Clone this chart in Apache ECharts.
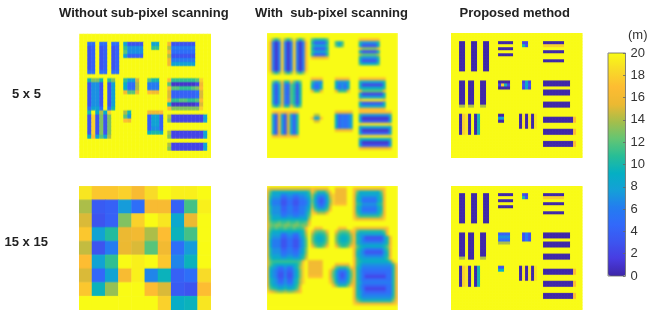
<!DOCTYPE html>
<html><head><meta charset="utf-8">
<style>html,body{margin:0;padding:0;background:#fff}#stage{position:relative;width:654px;height:316px;overflow:hidden}
.clip{position:absolute;overflow:hidden}.clip>div{position:absolute}#top{position:absolute;left:0;top:0;width:654px;height:316px;pointer-events:none}</style>
<script src="https://cdn.jsdelivr.net/npm/echarts@6/dist/echarts.min.js"></script></head>
<body><div id="stage"></div><script>
// Cell values: one char per cell, base-36 metres (0-9, a=10 ... k=20); '.' = 20. "@n:" skips to cell n over 20s. Unwritten cells are 20.
const withoutSub5 = [
"","",
"@2:55 @5:55 @8:55 @11:83333 @18:88 @22:g333333",
"@2:34 @5:34 @8:34 @11:b7777 @18:bb @22:e666666",
"@2:34 @5:34 @8:34 @11:c7777 @22:g555555",
"@2:34 @5:34 @8:34 @11:84444 @22:e333333",
"@2:34 @5:34 @8:34 @22:g666666",
"@2:34 @5:34 @8:34 @22:g888888",
"@2:34 @5:34 @8:34",
"@2:55 @5:55 @8:55",
"",
"@2:adda @7:bd @11:b88f @17:caa @22:hbbbbbbci",
"@2:3773 @7:38 @11:955e @17:666 @22:c1111112g",
"@2:3773 @7:38 @11:955e @17:666 @22:hccbbbcdh",
"@2:3773 @7:38 @11:gccg @17:hgg @22:f4444445f",
"@2:3773 @7:38 @22:f4444445f",
"@2:3773 @7:38 @22:hbbccbbch",
"@2:3773 @7:38 @22:a1111112f",
"@2:5885 @7:5a @22:hdddddddi",
"@2:a.9e9i @11:ea @17:gggh",
"@2:3i3d3d @11:c7 @17:4884 @22:e222222228",
"@2:3i3d3d @11:hg @17:4884 @22:d222222228",
"@2:3i3d3d @17:4884",
"@2:3i3d3d @17:4774",
"@2:3i3d3d @17:9aa9 @22:e222222228",
"@2:9h8c8e @22:d222222228",
"",
"@22:e222222228",
"@22:d222222228",
"",""];
const withoutSub15 = [
[19,17.5,17.5,18,16.5,18.5,20,19.5,19.5,20],
[14,3.5,4,7.5,5,16.5,16.5,4,11.5,19.5],
[15,3,4,13,18,20,19,8.5,15.5,20],
[17.5,8,10.5,15.5,16,14,17,9.5,11.5,20],
[14.5,3,6,15.5,15,12,16,5,7.5,20],
[17,8,11,20,19.5,20,17.5,6.5,9.5,20],
[15,4.5,8,16.5,19.5,6.5,9.5,4,5,18.5],
[17.5,9.5,13.5,20,20,17,15,3.5,3,17],
[20,20,20,20,20,20,18,9,9.5,19]];
const withSub5 = [
"","",
"@1:j dad j dad j dad j @15:caaaac @31:hhhhhhh",
"@1:h 616 i 616 i 616 h @15:a4444a @23:b8b @31:a77777a",
"@1:h 616 i 616 i 616 h @15:b8888b @23:c9c @31:9333339",
"@1:h 616 i 616 i 616 h @15:a4444a @31:gdddddg",
"@1:h 616 i 616 i 616 h @15:b8888b @31:9333339",
"@1:h 616 i 616 i 616 h @15:a4444a @31:eccccce",
"@1:h 616 i 616 i 616 h @15:hggggh @31:a77777a",
"@1:h 616 i 616 i 616 h @31:8333338",
"@1:h 616 i 616 i 616 h @31:b99999b",
"@1:h 616 i 616 i 616 h",
"@1:h 616 i 616 i 616 h",
"@1:j dad j dad j dad j",
"",
"@15:hhhh @23:hhhhh @31:hhhhhhhhh",
"@2:c8c gaag c8c @15:b777 @23:97779 @31:a8888888a",
"@2:838 f64c a3a @15:9559 @23:95759 @31:922222229",
"@2:838 f64c a3a @15:9559 @23:95759 @31:a9999999a",
"@2:838 f64c a3a @15:gbbg @23:gbbbg @31:gcccccccg",
"@2:838 f64c a3a @31:922222229",
"@2:838 f64c a3a @31:a8888888a",
"@2:838 f64c a3a @31:hjjjjjjjh",
"@2:838 f64c a3a @31:933333339",
"@2:c9c gaag c8c @31:a8888888a",
"@31:hhhhhhhhh",
"@2:hgh hgh hgh @23:gggggg @31:hhhhhhhhhhh",
"@2:83g 83f 84a @16:ee @23:946568 @31:a777777777a",
"@2:83g 83f 84a @15:h88h @23:946568 @31:71111111117",
"@2:83g 83f 84a @16:ff @23:946568 @31:93333333339",
"@2:83g 83f 84a @23:946568 @31:ijjjjjjjjji",
"@2:83g 83f 84a @23:946568 @31:98888888889",
"@2:83g 83f 84a @23:gggggg @31:71111111117",
"@2:83g 83f 84a @31:94444444449",
"@2:hgh hgh hgh @31:ijjjjjjjjji",
"@31:a999999999a",
"@31:71111111117",
"@31:93333333339",
"@31:hgggggggggh",
"","",""];
const withSub15 = [
"",
"i ffffffffffffff h @16:ggggg @23:gggg @29:h ggggggggg h",
"h c 999999999999 b h @16:d aaa d h @23:gggg @29:h c 9999999 c h",
"h b 888 66 77 66 77 8 a e @16:a 777 a f i @23:gggg @29:g b 8888888 b g",
"h a 777 44 66 44 66 7 9 d @16:9 646 9 e i @23:gggg @29:g a 9 66666 9 a g",
"h 9 666 33 55 33 55 6 8 c @16:8 535 8 d i @23:gggg @29:g a 8 55555 8 a g",
"h 9 666 33 55 33 55 6 8 d @16:9 646 9 e i @23:hhhh @29:g b a 77777 a b g",
"h a 777 44 66 44 66 7 9 e @16:a 767 a f @29:g a 8 66666 8 a g",
"h a 777 44 66 44 66 7 a g @16:c aaa c h @29:g a 8 55555 8 a g",
"h a 777 55 66 55 66 8 b i @16:h eee h @29:g b 9 77777 9 b g",
"h b 888 66 77 66 77 8 c j @29:h d bbbbbbb d h",
"h b 999999999999 e @29:i ggggggggg i",
"h c bbcbbcbbcbbc g",
"h d cddcddcddcdd i",
"h c bcbbcbbcbbc h @16:hhh @24:hhh @29:i gggggggggg h",
"h b 9999999999 a f @15:h d cc d h @23:h d cc d h @29:h c aaaaaaaa c h",
"h a 888 55 77 55 8 a e @15:e b aa b e @23:e b aa b e @29:g a 88888888 a g",
"h a 777 44 66 44 7 9 d @15:d a 99 a d @23:d a 99 a d @29:g a 8 6 333333 7 a g",
"h 9 666 33 55 33 6 8 c @15:d a 99 a d @23:d a 99 a d @29:g a 8 6 444444 7 a g",
"h 9 666 33 55 33 6 8 c @15:e b aa b e @23:e b aa b e @29:g a 8 7 777777 8 a g",
"h 9 666 33 55 33 6 8 c @15:h d bb d h @23:h d bb d h @29:h c a 9 999999 a c h",
"h a 777 44 66 44 7 9 d @29:g b 9 7 555555 8 b g",
"h a 777 55 66 55 7 9 d @29:g a 8 6 333333 7 a g",
"h a 888 66 77 66 8 a e @29:g a 8 7 666666 8 a g",
"h b 999 88 99 88 9 b f @29:h b 9 8 888888 9 b h",
"h c bbbbbbbbb c h @14:ggggg @29:h b a 999999999 b h",
"h c a 9999999 a d i @14:ggggg @23:ggggg @29:h b 9 7777777777 b h",
"h a 8 7 55 7 55 8 a e i @14:ggggg @22:h c aaa c h @29:g a 8 6666666666 a g",
"h 9 7 6 44 6 44 7 9 d i @14:ggggg @21:h d 9 666 9 d @29:g a 7 5555555555 a g",
"h 9 7 6 33 6 33 7 9 d i @14:ggggg @21:g c 8 5 3 5 8 c @29:g a 7 5 4444444 55 a g",
"h 9 7 6 33 6 33 7 9 d i @14:hhhhh @21:g c 8 5 3 5 8 c @29:g a 7 5 2222222 55 a g",
"h a 8 7 44 7 44 8 a e i @21:h d 9 6 5 6 9 d @29:g a 7 5 5555555 55 a g",
"h a 8 7 55 7 55 8 a e i @21:i e a 777 a e @29:g a 8 6 6666666 66 a g",
"h b 9 8 77 8 77 9 b f @22:h d aaa d h @29:g a 7 5 4444444 55 a g",
"i c b a 99 a 99 a c h @29:g a 7 5 2222222 55 a g",
"j h f e dd e dd e f h @29:g a 8 6 4444444 55 a g",
"@29:g a 8 6 6666666 66 a g",
"@29:g b 9 7 7777777 77 b g",
"@29:h d b a aaaaaaa aa d h",
"@29:i h ggggggggggg h i",
"",""];
const proposed5 = [
"","","",
"@3:00 @7:00 @11:00 @16:00000 @24:22 @31:0000000",
"@3:00 @7:00 @11:00 @24:a3 @31:iiiiiii",
"@3:00 @7:00 @11:00 @16:00000",
"@3:00 @7:00 @11:00 @31:0000000",
"@3:00 @7:00 @11:00 @16:00000",
"@3:00 @7:00 @11:00",
"@3:00 @7:00 @11:00 @31:0000000",
"@3:00 @7:00 @11:00",
"@3:00 @7:00 @11:00",
"@3:00 @7:00 @11:00",
"","","",
"@3:00 @6:00 @10:00 @16:0000 @24:282 @31:000000000",
"@3:00 @6:00 @10:00 @16:2ia2 @24:393 @31:000000000",
"@3:00 @6:00 @10:00 @16:0000 @24:282",
"@3:00 @6:00 @10:00 @31:000000000",
"@3:00 @6:00 @10:00 @31:000000000",
"@3:00 @6:00 @10:00",
"@3:00 @6:00 @10:00",
"@3:00 @6:00 @10:00 @31:000000000",
"@3:ee @6:ee @10:ee @31:000000000",
"","",
"@3:0ij0.0a @16:00 @23:0j0j0j",
"@3:0ij0.0a @16:88 @23:0j0j0j @31:0000000000h",
"@3:0ij0.0a @16:00 @23:0j0j0j @31:0000000000h",
"@3:0ij0.0a @23:0j0j0j",
"@3:0ij0.0a @23:0j0j0j",
"@3:0ij0.0a @31:0000000000h",
"@3:0ij0.0a @31:0000000000h",
"","",
"@31:0000000000h",
"@31:0000000000h",
"","","",""];
const proposed15 = [
"","","",
"@3:00 @7:00 @11:00 @16:00000 @24:32 @31:0000000",
"@3:00 @7:00 @11:00 @24:a3 @31:iiiiiii",
"@3:00 @7:00 @11:00 @16:00000",
"@3:00 @7:00 @11:00 @31:0000000",
"@3:00 @7:00 @11:00 @16:00000",
"@3:00 @7:00 @11:00",
"@3:00 @7:00 @11:00 @31:0000000",
"@3:00 @7:00 @11:00",
"@3:00 @7:00 @11:00",
"@3:00 @7:00 @11:00",
"","","",
"@3:00 @6:00 @10:00 @16:4444 @24:363 @31:000000000",
"@3:00 @6:00 @10:00 @16:7777 @24:363 @31:000000000",
"@3:00 @6:00 @10:00 @16:5555 @24:363",
"@3:00 @6:00 @10:00 @16:eeee @31:000000000",
"@3:00 @6:00 @10:00 @31:000000000",
"@3:00 @6:00 @10:00",
"@3:00 @6:00 @10:00",
"@3:00 @6:00 @10:00 @31:000000000",
"@3:ee @6:00 @10:ee @31:000000000",
"","",
"@3:0ij0.0a @16:33 @23:0j0j0j",
"@3:0ij0.0a @16:99 @23:0j0j0j @31:0000000000h",
"@3:0ij0.0a @23:0j0j0j @31:0000000000h",
"@3:0ij0.0a @23:0j0j0j",
"@3:0ij0.0a @23:0j0j0j",
"@3:0ij0.0a @31:0000000000h",
"@3:0ij0.0a @31:0000000000h",
"","",
"@31:0000000000h",
"@31:0000000000h",
"","","",""];
const colTitles = ["Without sub-pixel scanning","With  sub-pixel scanning","Proposed method"];
const rowTitles = ["5 x 5","15 x 15"];
const unitLabel = "(m)";
const parula = ["#3e26a8","#483ce1","#3c55f0","#3269fa","#237df0","#14a0d7","#05afc3","#28be96","#64c573","#a5be4b","#ebb932","#fdbc32","#f8da28","#f9fb15"];

function toRows(rows){return rows.map(r=>{
  if(typeof r!=='string') return r;
  const out=[];
  r.replace(/ /g,'').split(/(@\d+:)/).forEach(part=>{
    const m=part.match(/^@(\d+):$/);
    if(m){while(out.length<+m[1])out.push(20);}
    else part.split('').forEach(c=>out.push(c==='.'?20:parseInt(c,36)));
  });
  return out;
});}

const panels=[
 {rows:withoutSub5,cols:33,n:31,clip:[78.5,33,132,124.5],o:[79,34,132,124],blur:.75},
 {rows:withSub5,cols:44,n:42,clip:[267,33,131,124.5],o:[266,32.3,132,126],blur:1.0},
 {rows:proposed5,cols:44,n:42,clip:[451,33,132,124.5],o:[450.3,32.3,132,126],blur:.5},
 {rows:withoutSub15,cols:10,n:9,clip:[78.5,186,132,123.5],o:[78.3,186,132,123],blur:.6},
 {rows:withSub15,cols:44,n:42,clip:[267,186,131,123.5],o:[266,184.7,132,126],blur:1.3},
 {rows:proposed15,cols:44,n:42,clip:[451,186,132,123.5],o:[450.3,184.3,132,126],blur:.5}];

const stage=document.getElementById('stage');
const visual=(show)=>({min:0,max:20,dimension:2,show:!!show,inRange:{color:parula}});
panels.forEach(p=>{
  const clip=document.createElement('div');clip.className='clip';
  clip.style.cssText=`left:${p.clip[0]}px;top:${p.clip[1]}px;width:${p.clip[2]}px;height:${p.clip[3]}px`;
  const pad=6, w=p.clip[2]+2*pad, h=p.clip[3]+2*pad;
  const d=document.createElement('div');
  d.style.cssText=`left:${-pad}px;top:${-pad}px;width:${w}px;height:${h}px;filter:blur(${p.blur}px)`;
  clip.appendChild(d);stage.appendChild(clip);
  const matrix=toRows(p.rows),data=[];
  for(let r=0;r<p.n;r++)for(let c=0;c<p.cols;c++){const row=matrix[r]||[];data.push([c,r,row[c]===undefined?20:row[c]]);}
  const cats=n=>Array.from({length:n},(_,i)=>i);
  echarts.init(d,null,{renderer:'canvas',width:w,height:h}).setOption({
    animation:false,
    grid:{left:p.o[0]-p.clip[0]+pad,top:p.o[1]-p.clip[1]+pad,width:p.o[2],height:p.o[3],containLabel:false},
    xAxis:{type:'category',data:cats(p.cols),show:false},
    yAxis:{type:'category',data:cats(p.n),show:false,inverse:true},
    visualMap:visual(false),
    series:[{type:'heatmap',data,silent:true,progressive:0,itemStyle:{borderWidth:0}}]
  });
});

const topDiv=document.createElement('div');topDiv.id='top';stage.appendChild(topDiv);
const sans='"Liberation Sans",Arial,sans-serif';
const bold={fontFamily:sans,fontWeight:'bold',fontSize:13,color:'#222'};
echarts.init(topDiv,null,{renderer:'canvas',width:654,height:316}).setOption({
  animation:false,
  title:[
    {text:colTitles[0],left:59,top:7,padding:0,textStyle:bold},
    {text:colTitles[1],left:255,top:7,padding:0,textStyle:bold},
    {text:colTitles[2],left:459.5,top:7,padding:0,textStyle:bold},
    {text:rowTitles[0],left:12,top:88,padding:0,textStyle:bold},
    {text:rowTitles[1],left:4.5,top:236,padding:0,textStyle:bold},
    {text:unitLabel,left:628,top:29,padding:0,textStyle:{fontFamily:sans,fontWeight:'normal',fontSize:13,color:'#333'}}
  ],
  visualMap:{type:'continuous',min:0,max:20,show:true,calculable:false,orient:'vertical',left:608,top:53,itemWidth:17.5,itemHeight:223,padding:0,text:null,inRange:{color:parula},seriesIndex:[],z:1},
  grid:{left:608,top:53,width:17.5,height:223,show:true,borderColor:'#666',borderWidth:.8,backgroundColor:'transparent',z:10},
  xAxis:{type:'value',show:false,min:0,max:1},
  yAxis:{type:'value',min:0,max:20,interval:2,position:'right',z:10,
    axisLine:{show:false,onZero:false},splitLine:{show:false},
    axisTick:{show:true,inside:true,length:2.5,lineStyle:{color:'#666',width:.8}},
    axisLabel:{show:true,margin:5,fontSize:13,color:'#333',fontFamily:sans}},
  series:[{type:'line',data:[],silent:true}]
});
</script></body></html>
